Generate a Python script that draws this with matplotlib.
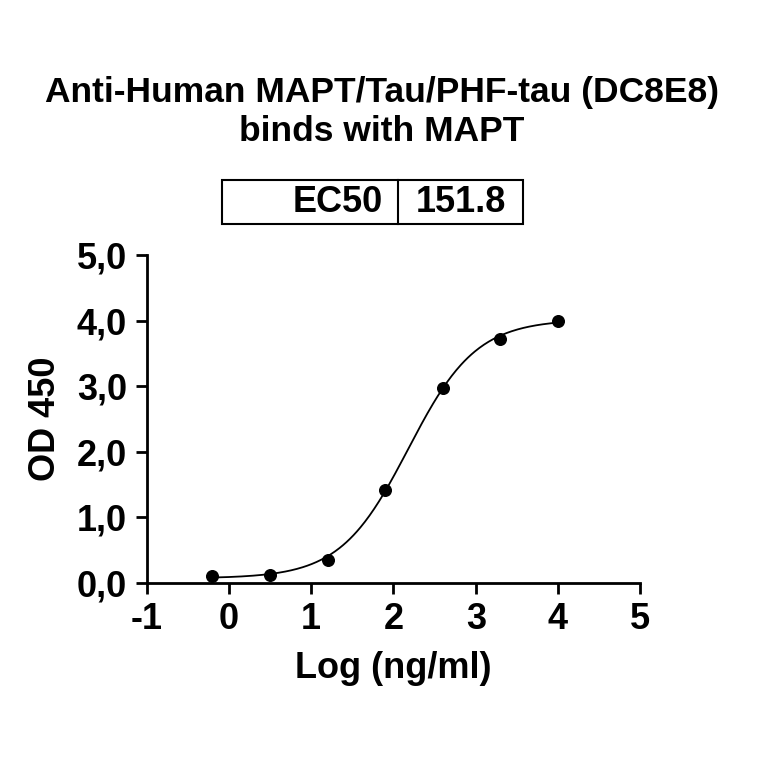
import numpy as np
import matplotlib
matplotlib.use("Agg")
import matplotlib.pyplot as plt
from matplotlib.ticker import FuncFormatter
from matplotlib.patches import Rectangle

plt.rcParams['font.family'] = ['Liberation Sans', 'DejaVu Sans']
plt.rcParams['font.weight'] = 'bold'
plt.rcParams['axes.unicode_minus'] = False

log_conc = [-0.2, 0.5, 1.2, 1.9, 2.6, 3.3, 4.0]
od450 = [0.10, 0.12, 0.35, 1.42, 2.98, 3.72, 4.00]
# 4PL fit parameters
bottom, top, logec50, hill = 0.07, 4.02, 2.18, 1.05
ec50_label = "151.8"

fig = plt.figure(figsize=(7.64, 7.64), dpi=100)
ax = fig.add_axes([0.192, 0.237, 0.646, 0.429])
xs = np.linspace(-0.2, 4.0, 300)
ys = bottom + (top - bottom) / (1 + 10 ** ((logec50 - xs) * hill))
ax.plot(xs, ys, color='black', lw=1.3)
ax.scatter(log_conc, od450, color='black', s=70, zorder=3)
ax.set_xlim(-1, 5)
ax.set_ylim(0, 5)
ax.set_xticks(range(-1, 6))
ax.set_yticks(range(0, 6))
ax.xaxis.set_major_formatter(FuncFormatter(lambda v, p: f"{int(v)}"))
ax.yaxis.set_major_formatter(FuncFormatter(lambda v, p: f"{v:.1f}".replace('.', ',')))
for s in ['top', 'right']:
    ax.spines[s].set_visible(False)
for s in ['left', 'bottom']:
    ax.spines[s].set_linewidth(2)
ax.tick_params(width=2, length=8, labelsize=26, pad=6)
ax.set_xlabel("Log (ng/ml)", fontsize=26, fontweight='bold', labelpad=10)
ax.set_ylabel("OD 450", fontsize=26, fontweight='bold', labelpad=10)

fig.text(0.5, 1 - 112/764, "Anti-Human MAPT/Tau/PHF-tau (DC8E8)\nbinds with MAPT",
         ha='center', va='center', fontsize=25.5, fontweight='bold', linespacing=1.2)
# EC50 table
x0, x1, xm = 222/764, 523/764, 398/764
yb, yt = 1 - 224/764, 1 - 180/764
fig.patches.append(Rectangle((x0, yb), x1 - x0, yt - yb, transform=fig.transFigure,
                             fill=False, lw=1.5, ec='black'))
fig.add_artist(plt.Line2D([xm, xm], [yb, yt], transform=fig.transFigure, lw=1.5, color='black'))
fig.text(xm - 0.02, (yb + yt) / 2, "EC50", ha='right', va='center', fontsize=26, fontweight='bold')
fig.text((xm + x1) / 2, (yb + yt) / 2, ec50_label, ha='center', va='center', fontsize=26, fontweight='bold')
fig.savefig("out.png", dpi=100)
